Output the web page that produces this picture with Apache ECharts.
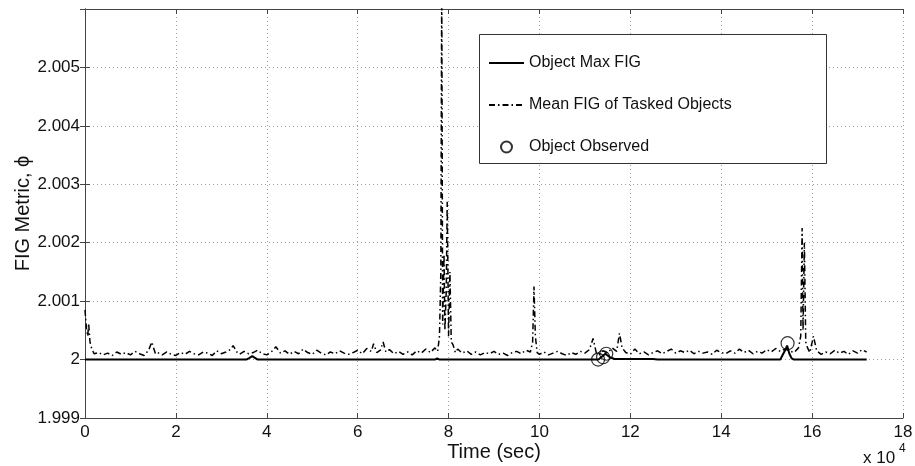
<!DOCTYPE html>
<html>
<head>
<meta charset="utf-8">
<script src="https://cdn.jsdelivr.net/npm/echarts@6/dist/echarts.min.js"></script>
<style>html,body{margin:0;padding:0;background:#fff}#c{width:915px;height:466px}</style>
</head>
<body>
<div id="c"></div>
<script>
// Time in units of 1e4 sec
var meanTime = [0.00,0.03,0.06,0.08,0.11,0.15,0.20,0.30,0.40,0.50,0.60,0.70,0.80,0.90,1.00,1.10,1.20,1.30,1.40,1.47,1.55,1.60,1.70,1.80,1.90,2.00,2.10,2.20,2.30,2.40,2.50,2.60,2.70,2.80,2.90,3.00,3.10,3.20,3.26,3.35,3.40,3.50,3.60,3.70,3.80,3.90,4.00,4.10,4.20,4.30,4.40,4.50,4.60,4.70,4.80,4.90,5.00,5.10,5.20,5.30,5.40,5.50,5.60,5.70,5.80,5.90,6.00,6.10,6.20,6.30,6.35,6.42,6.50,6.56,6.62,6.70,6.80,6.90,7.00,7.10,7.20,7.30,7.40,7.50,7.60,7.70,7.76,7.80,7.83,7.85,7.87,7.90,7.92,7.95,7.97,8.00,8.03,8.06,8.10,8.15,8.20,8.30,8.40,8.50,8.60,8.70,8.80,8.90,9.00,9.10,9.20,9.30,9.40,9.50,9.60,9.70,9.80,9.85,9.88,9.91,9.95,10.00,10.10,10.20,10.30,10.40,10.50,10.60,10.70,10.80,10.90,11.00,11.10,11.18,11.25,11.30,11.40,11.50,11.60,11.70,11.76,11.82,11.90,12.00,12.10,12.20,12.30,12.40,12.50,12.60,12.70,12.80,12.90,13.00,13.10,13.20,13.30,13.40,13.50,13.60,13.70,13.80,13.90,14.00,14.10,14.20,14.30,14.40,14.50,14.60,14.70,14.80,14.90,15.00,15.10,15.20,15.30,15.40,15.50,15.60,15.70,15.75,15.78,15.80,15.83,15.86,15.90,15.95,16.03,16.10,16.20,16.30,16.40,16.50,16.60,16.70,16.80,16.90,17.00,17.10,17.20];
var meanValue = [2.00085,2.00055,2.00040,2.00062,2.00030,2.00018,2.00010,2.00012,2.00008,2.00011,2.00007,2.00013,2.00009,2.00012,2.00008,2.00014,2.00010,2.00007,2.00016,2.00030,2.00010,2.00012,2.00008,2.00013,2.00009,2.00007,2.00012,2.00009,2.00014,2.00010,2.00008,2.00013,2.00011,2.00007,2.00015,2.00010,2.00013,2.00017,2.00024,2.00012,2.00009,2.00014,2.00010,2.00012,2.00016,2.00010,2.00008,2.00013,2.00022,2.00011,2.00015,2.00009,2.00014,2.00010,2.00018,2.00012,2.00009,2.00016,2.00011,2.00008,2.00013,2.00010,2.00015,2.00011,2.00009,2.00012,2.00016,2.00010,2.00019,2.00014,2.00027,2.00012,2.00016,2.00030,2.00013,2.00017,2.00010,2.00014,2.00009,2.00013,2.00008,2.00015,2.00011,2.00018,2.00012,2.00020,2.00014,2.00040,2.00150,2.00650,2.00060,2.00180,2.00050,2.00120,2.00270,2.00040,2.00150,2.00030,2.00025,2.00012,2.00018,2.00011,2.00015,2.00009,2.00013,2.00008,2.00012,2.00010,2.00014,2.00009,2.00011,2.00007,2.00012,2.00014,2.00010,2.00016,2.00013,2.00030,2.00125,2.00040,2.00012,2.00009,2.00013,2.00008,2.00011,2.00014,2.00010,2.00007,2.00012,2.00009,2.00014,2.00011,2.00017,2.00036,2.00012,2.00008,2.00015,2.00011,2.00020,2.00014,2.00045,2.00020,2.00012,2.00009,2.00018,2.00010,2.00013,2.00008,2.00012,2.00015,2.00010,2.00014,2.00018,2.00011,2.00015,2.00012,2.00016,2.00010,2.00014,2.00011,2.00013,2.00009,2.00016,2.00012,2.00010,2.00015,2.00011,2.00018,2.00012,2.00016,2.00010,2.00014,2.00011,2.00017,2.00013,2.00019,2.00014,2.00018,2.00015,2.00012,2.00020,2.00040,2.00225,2.00050,2.00200,2.00030,2.00020,2.00012,2.00040,2.00015,2.00009,2.00013,2.00010,2.00016,2.00011,2.00014,2.00009,2.00015,2.00011,2.00017,2.00013];

var maxTime  = [0, 3.55, 3.62, 3.68, 3.74, 3.80, 7.70, 7.75, 7.80, 11.30, 11.45, 11.55, 11.65, 12.50, 12.60, 15.30, 15.40, 15.45, 15.50, 15.55, 15.60, 17.20];
var maxValue = [2.0, 2.0, 2.00003, 2.00006, 2.00003, 2.0, 2.0, 2.00002, 2.0, 2.0, 2.0001, 2.00004, 2.00001, 2.00001, 2.0, 2.0, 2.00015, 2.00024, 2.0001, 2.00002, 2.0, 2.0];

var obsTime  = [11.29, 11.40, 11.47, 15.46];
var obsValue = [2.0, 2.00004, 2.0001, 2.00028];

var xTicks = [0, 2, 4, 6, 8, 10, 12, 14, 16, 18];
var yTickLabels = ['1.999', '2', '2.001', '2.002', '2.003', '2.004', '2.005'];

var seriesNames = ['Object Max FIG', 'Mean FIG of Tasked Objects', 'Object Observed'];

function zip(a, b) { return a.map(function (v, i) { return [v, b[i]]; }); }

var font = 'Liberation Sans, Arial, Helvetica, sans-serif';
var axisColor = '#444';
var chart = echarts.init(document.getElementById('c'));

var baseX = {
  type: 'value', min: xTicks[0], max: xTicks[xTicks.length - 1], interval: 2,
  axisLine: { lineStyle: { color: axisColor, width: 1 } },
  axisTick: { inside: true, length: 5, lineStyle: { color: axisColor } },
  splitLine: { show: false }
};
var baseY = {
  type: 'value', min: 1.999, max: 2.006, interval: 0.001,
  axisLine: { show: true, lineStyle: { color: axisColor, width: 1 } },
  axisTick: { show: true, inside: true, length: 5, lineStyle: { color: axisColor } },
  splitLine: { show: false }
};

chart.setOption({
  animation: false,
  backgroundColor: '#fff',
  grid: { left: 85, right: 12, top: 9, bottom: 48, containLabel: false, outerBoundsMode: 'none' },
  xAxis: [
    Object.assign({}, baseX, {
      position: 'bottom',
      name: 'Time (sec)', nameLocation: 'middle', nameGap: 24, nameMoveOverlap: false,
      nameTextStyle: { fontFamily: font, fontSize: 20, color: '#111' },
      axisLabel: { fontFamily: font, fontSize: 17, color: '#111', margin: 6,
        formatter: function (v) { return String(Math.round(v)); } },
      splitLine: { show: true, lineStyle: { color: '#a0a0a0', type: [1, 3], width: 1 } }
    }),
    Object.assign({}, baseX, { position: 'top', axisLabel: { show: false } })
  ],
  yAxis: [
    Object.assign({}, baseY, {
      position: 'left',
      name: 'FIG Metric, \u03D5', nameLocation: 'middle', nameGap: 52, nameMoveOverlap: false,
      nameTextStyle: { fontFamily: font, fontSize: 20, color: '#111' },
      axisLabel: { fontFamily: font, fontSize: 17, color: '#111', margin: 5,
        formatter: function (v) {
          var idx = Math.round((v - 1.999) / 0.001);
          return yTickLabels[idx] !== undefined ? yTickLabels[idx] : '';
        } },
      splitLine: { show: true, lineStyle: { color: '#a0a0a0', type: [1, 3], width: 1 } }
    }),
    Object.assign({}, baseY, { position: 'right', axisLabel: { show: false } })
  ],
  legend: {
    orient: 'vertical', left: 483, top: 50, itemWidth: 35, itemHeight: 11, itemGap: 26,
    data: [
      { name: seriesNames[0], itemStyle: { opacity: 0 } },
      { name: seriesNames[1], itemStyle: { opacity: 0 } },
      { name: seriesNames[2] }
    ],
    textStyle: { fontFamily: font, fontSize: 16, color: '#111', lineHeight: 16 },
    selectedMode: false
  },
  graphic: [{
    type: 'rect', z: 3,
    shape: { x: 479.5, y: 34.5, width: 347, height: 129 },
    style: { fill: '#fff', stroke: '#333', lineWidth: 1 }
  }, {
    type: 'text', left: 863, top: 450, z: 5,
    style: { text: 'x 10', fontFamily: font, fontSize: 17, fill: '#111' }
  }, {
    type: 'text', left: 899, top: 443, z: 5,
    style: { text: '4', fontFamily: font, fontSize: 12, fill: '#111' }
  }],
  series: [
    {
      name: seriesNames[0], type: 'line', data: zip(maxTime, maxValue),
      symbol: 'none', lineStyle: { color: '#000', width: 2 }, itemStyle: { color: '#000' }, z: 3
    },
    {
      name: seriesNames[1], type: 'line', data: zip(meanTime, meanValue),
      symbol: 'none', clip: true,
      lineStyle: { color: '#000', width: 1.5, type: [6, 3, 1.5, 3] }, itemStyle: { color: '#000' }, z: 2
    },
    {
      name: seriesNames[2], type: 'scatter', data: zip(obsTime, obsValue),
      symbol: 'circle', symbolSize: 13,
      itemStyle: { color: 'rgba(0,0,0,0)', borderColor: '#000', borderWidth: 1.2 }, z: 4
    }
  ]
});
</script>
</body>
</html>
